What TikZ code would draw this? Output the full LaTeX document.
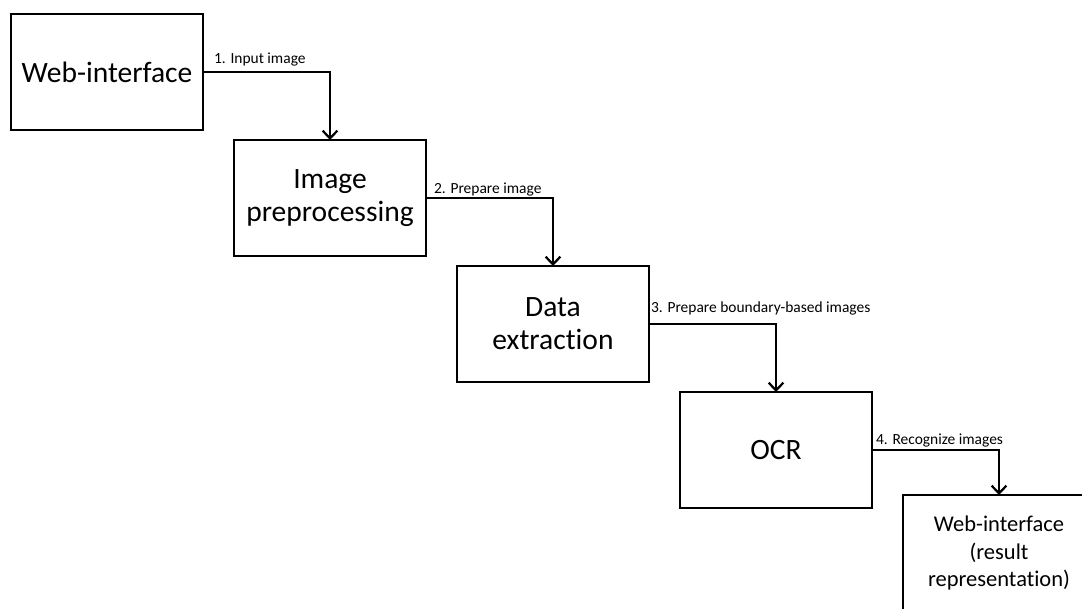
\documentclass[tikz,border=0pt]{standalone}
\usepackage{fontspec}
\setmainfont{Carlito}[Ligatures=CommonOff]
\usetikzlibrary{positioning, arrows.meta}

\begin{document}
\begin{tikzpicture}[
        node distance=0.25cm and 0.775cm,
        block/.style={draw, line width=1.4pt, outer sep=0pt, minimum width=4.8cm, minimum height=2.9cm, text width=4.6cm, align=center, inner sep=0pt, font=\fontsize{21}{23.5}\selectfont},
        flow/.style={line width=1.6pt, -{Straight Barb[length=5.5pt, width=10.5pt]}},
        lbl/.style={anchor=base west, inner sep=0pt, font=\fontsize{11}{13}\selectfont}
        ]
        \useasboundingbox (0,0) rectangle (27.05,-15.2);
        % Nodes
        \node[block, anchor=north west] (web) at (0.275,-0.35) {Web-interface};
        \node[block, below right=of web] (prep) {Image\\preprocessing};
        \node[block, below right=of prep] (extract) {Data\\extraction};
        \node[block, below right=of extract] (ocr) {OCR};
        \node[block, below right=-0.325cm and 0.775cm of ocr, font=\fontsize{16}{19.5}\selectfont] (result) {Web-interface\\(result\\representation)};

        % Arrows
        \draw[flow] (web.east) -| node[lbl, pos=0, xshift=0.25cm, yshift=0.225cm] {1. Input image} (prep.north);
        \draw[flow] (prep.east) -| node[lbl, pos=0, xshift=0.175cm, yshift=0.125cm] {2. Prepare image} (extract.north);
        \draw[flow] (extract.east) -| node[lbl, pos=0, xshift=0.025cm, yshift=0.3cm] {3. Prepare boundary-based images} (ocr.north);
        \draw[flow] (ocr.east) -| node[lbl, pos=0, xshift=0.075cm, yshift=0.15cm] {4. Recognize images} (result.north);
    \end{tikzpicture}
\end{document}
